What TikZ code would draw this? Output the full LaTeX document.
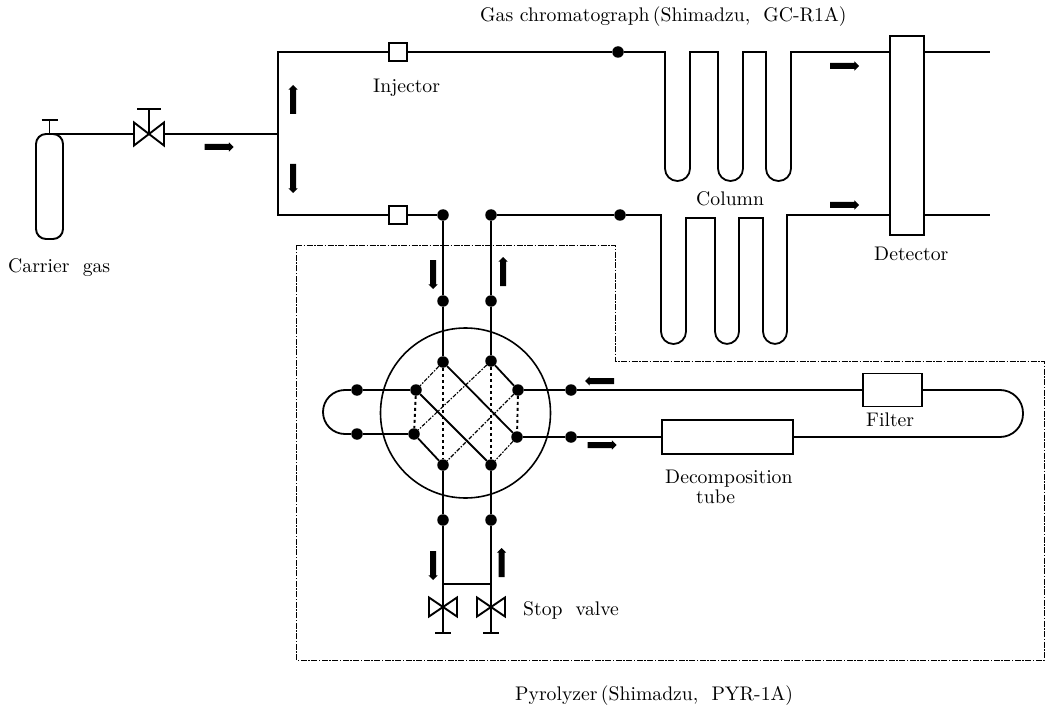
\documentclass[tikz,border=0pt]{standalone}
\usepackage{amsmath}
\usepackage{xcolor}
\usepackage{fontspec}
\setmainfont{lmroman10-regular}[Extension=.otf]
\usepackage{tikz}
\usetikzlibrary{positioning,arrows.meta,shapes.geometric,shapes.arrows}

\tikzset{
  pipe/.style={line width=1.8pt, line join=miter},
  thinpipe/.style={line width=1.3pt},
  dot/.style={circle, fill=black, inner sep=0pt, minimum size=11.5pt},
  box/.style={draw, line width=1.9pt, fill=white, inner sep=0pt},
  flow/.style={single arrow, fill=black, inner sep=2.8pt, minimum height=29pt, single arrow head extend=1.6pt, single arrow head indent=0pt},
  cross/.style={line width=1.1pt, dash pattern=on 4pt off 1.5pt on 1.5pt off 1.5pt},
  crossv/.style={line width=1.9pt, dash pattern=on 3pt off 3pt},
  frame/.style={line width=0.9pt, dash pattern=on 6pt off 1.5pt on 1.5pt off 1.5pt},
  lbl/.style={font=\fontsize{19.7}{23}\selectfont, inner sep=0pt, anchor=base west},
  pics/bowtie/.style n args={2}{code={
    \draw[thinpipe, line width=1.9pt, fill=white] (-#1,-#2) -- (#1,#2) -- (#1,-#2) -- (-#1,#2) -- cycle;
  }},
}

\begin{document}
\begin{tikzpicture}[x=1pt,y=-1pt]
\useasboundingbox (0,0) rectangle (1045,706);
% Pyrolyzer frame
\draw[frame] (296,245) -- (615,245) -- (615,361) -- (1044,361) -- (1044,660) -- (296,660) -- cycle;
% Carrier gas line
\node[box, rounded corners=10pt, minimum width=27pt, minimum height=105pt] (cyl) at (49.5,186.5) {};
\coordinate (cylcap) at (49.5,120);
\coordinate (vmain) at (149,134);
\coordinate (vmaincap) at (149,109);
\coordinate (tee) at (278,134);
\coordinate (ctop) at (278,52);
\coordinate (cbot) at (278,215);
\draw[pipe] (cyl.north) -- (cylcap);
\draw[pipe] (cylcap) ++(-8,0) -- ++(16,0);
\draw[pipe] (cyl.north |- vmain) -- (vmain) -- (tee);
\draw[pipe] (vmain) -- (vmaincap);
\draw[pipe] (vmaincap) ++(-12,0) -- ++(24,0);
\pic at (vmain) {bowtie={15}{11.5}};
% Injectors
\node[box, minimum size=18pt] (inja) at (398,52) {};
\node[box, minimum size=18pt] (injb) at (398,215) {};
\node[dot] (cola) at (618,52) {};
\node[dot] (colb) at (620,215) {};
\node[dot] (swa) at (443,215) {};
\node[dot] (swb) at (491,215) {};
\draw[pipe] (inja) -- (ctop) -- (cbot) -- (injb);
\draw[pipe] (inja) -- (cola);
\draw[pipe] (injb) -- (swa);
\draw[pipe] (swb) -- (colb);
% Detector
\node[box, minimum width=34pt, minimum height=199pt] (det) at (907,135.5) {};
\coordinate (outa) at (990,52);
\coordinate (outb) at (990,215);
\draw[pipe] (det.east |- outa) -- (outa);
\draw[pipe] (det.east |- outb) -- (outb);
% Columns
\draw[pipe] (cola) -- (665,52) [rounded corners=12.4pt] -- (665,181) -- (690,181) [sharp corners] -- (690,52)
  -- (718,52) [rounded corners=12.4pt] -- (718,181) -- (743,181) [sharp corners] -- (743,52)
  -- (766,52) [rounded corners=12.4pt] -- (766,181) -- (791,181) [sharp corners] -- (791,52) -- (det.west |- outa);
\draw[pipe] (colb) -- (661,215) [rounded corners=12.4pt] -- (661,344) -- (686,344) [sharp corners] -- (686,218)
  -- (715,218) [rounded corners=12.4pt] -- (715,344) -- (739,344) [sharp corners] -- (739,218)
  -- (763,218) [rounded corners=12.4pt] -- (763,344) -- (787,344) [sharp corners] -- (787,215) -- (det.west |- outb);
% Switching valve
\node[draw, circle, line width=1.6pt, inner sep=0pt, minimum size=170pt] (sw) at (465.5,413) {};
\node[dot] (upa) at (443,301) {};
\node[dot] (upb) at (491,301) {};
\node[dot] (pta) at (443,362) {};
\node[dot] (ptb) at (491,361) {};
\node[dot] (pla) at (416,390) {};
\node[dot] (plb) at (414,434) {};
\node[dot] (pra) at (518,390) {};
\node[dot] (prb) at (517,437) {};
\node[dot] (pba) at (443,465) {};
\node[dot] (pbb) at (491,465) {};
\node[dot] (lfa) at (357,390) {};
\node[dot] (lfb) at (357,434) {};
\node[dot] (rga) at (571,390) {};
\node[dot] (rgb) at (571,437) {};
\node[dot] (dna) at (443,520) {};
\node[dot] (dnb) at (491,520) {};
\draw[pipe] (swa) -- (upa) -- (pta);
\draw[pipe] (swb) -- (upb) -- (ptb);
\draw[pipe] (pba) -- (dna);
\draw[pipe] (pbb) -- (dnb);
\draw[pipe] (lfa) -- (pla);
\draw[pipe] (ptb) -- (pra);
\draw[pipe] (pta) -- (prb);
\draw[pipe] (pla) -- (pbb);
\draw[pipe] (plb) -- (pba);
\draw[cross] (pta) -- (pla);
\draw[cross] (ptb) -- (plb);
\draw[cross] (pra) -- (pba);
\draw[cross] (prb) -- (pbb);
\draw[crossv] (pla) -- (plb);
\draw[crossv] (pta) -- (pba);
\draw[crossv] (ptb) -- (pbb);
\draw[crossv] (pra) -- (prb);
\draw[pipe, rounded corners=22pt] (lfa) -- (323,390) -- (323,434) -- (lfb);
\draw[pipe] (lfb) -- (plb);
\draw[pipe] (pra) -- (rga);
\draw[pipe] (prb) -- (rgb);
% Filter and decomposition tube
\node[box, minimum width=59pt, minimum height=33pt] (flt) at (892.5,390) {};
\node[box, minimum width=131pt, minimum height=34pt] (tube) at (727.5,437) {};
\draw[pipe] (rga) -- (flt);
\draw[pipe] (rgb) -- (tube);
\draw[pipe, rounded corners=23pt] (flt) -- (1023,390) -- (1023,437) -- (tube);
% Stop valves
\coordinate (jna) at (443,584);
\coordinate (jnb) at (491,584);
\coordinate (sva) at (443,607);
\coordinate (svb) at (491,607);
\coordinate (capa) at (443,633);
\coordinate (capb) at (491,633);
\draw[pipe] (dna) -- (jna) -- (capa);
\draw[pipe] (dnb) -- (jnb) -- (capb);
\draw[pipe] (jna) -- (jnb);
\draw[pipe] (capa) ++(-8,0) -- ++(16,0);
\draw[pipe] (capb) ++(-8,0) -- ++(16,0);
\pic at (sva) {bowtie={14}{9.5}};
\pic at (svb) {bowtie={14}{9.5}};
% Flow arrows
\node[flow] (fa) at (217.5,147) {};
\node[flow, rotate=90] (fb) at (293,101) {};
\node[flow, rotate=-90] (fc) at (293,177) {};
\node[flow] (fd) at (843,66) {};
\node[flow] (fe) at (843,205) {};
\node[flow, rotate=-90] (ff) at (433,273) {};
\node[flow, rotate=90] (fg) at (503,273) {};
\node[flow, rotate=180] (fh) at (601,381) {};
\node[flow] (fi) at (600.5,445) {};
\node[flow, rotate=-90] (fj) at (433,564) {};
\node[flow, rotate=90] (fk) at (501.5,564) {};
% Labels
\node[lbl] (lgc) at (480,22) {Gas chromatograph\,(Shimadzu,\ \ GC-R1A)};
\node[lbl] (linj) at (373,93) {Injector};
\node[lbl] (lcar) at (8,272) {Carrier\ \ gas};
\node[lbl] (lcol) at (696,205) {Column};
\node[lbl] (ldet) at (874,260) {Detector};
\node[lbl] (lflt) at (866,426) {Filter};
\node[lbl] (ldec) at (665,483) {Decomposition};
\node[lbl] (ltub) at (696,503) {tube};
\node[lbl] (lsto) at (523,615) {Stop\ \ valve};
\node[lbl] (lpyr) at (515,700) {Pyrolyzer\,(Shimadzu,\ \ PYR-1A)};
\end{tikzpicture}
\end{document}
